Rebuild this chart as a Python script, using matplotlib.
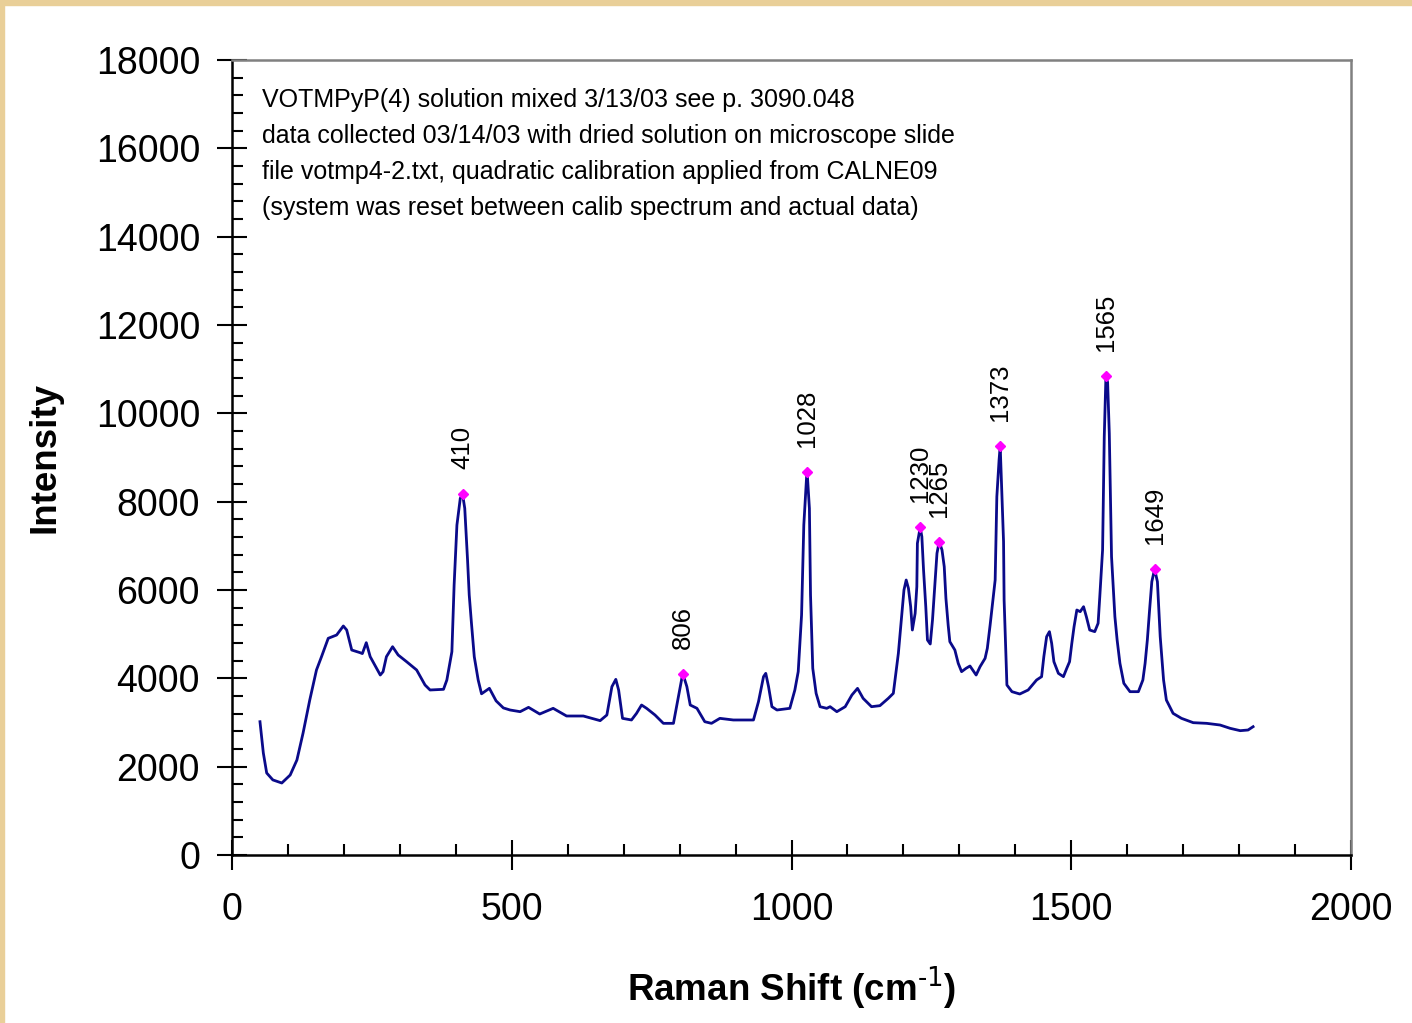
import matplotlib
matplotlib.use('Agg')
import matplotlib.pyplot as plt
from matplotlib.patches import Rectangle
from matplotlib.ticker import MultipleLocator

# spectrum: Raman shift (cm-1) and intensity
shift = [50, 56, 62, 73, 89, 104, 116, 127,
         139, 151, 160, 172, 187, 199, 205, 214,
         229, 233, 240, 247, 265, 270, 276, 287,
         297, 312, 330, 345, 354, 378, 384, 393,
         397, 402, 408, 412, 416, 421, 424, 428,
         433, 440, 446, 460, 472, 485, 497, 515,
         530, 550, 574, 598, 628, 658, 670, 679,
         686, 691, 698, 714, 723, 732, 741, 756,
         771, 789, 798, 804, 806, 813, 819, 831,
         845, 857, 872, 896, 932, 941, 950, 954,
         959, 965, 974, 997, 1006, 1012, 1018, 1022,
         1027, 1028, 1032, 1034, 1038, 1044, 1051, 1063,
         1069, 1081, 1096, 1108, 1118, 1128, 1143, 1158,
         1173, 1182, 1191, 1197, 1201, 1205, 1209, 1213,
         1216, 1221, 1224, 1225, 1230, 1233, 1236, 1240,
         1243, 1248, 1252, 1257, 1260, 1264, 1269, 1273,
         1276, 1280, 1283, 1292, 1298, 1304, 1312, 1319,
         1330, 1337, 1346, 1350, 1355, 1360, 1364, 1367,
         1371, 1373, 1376, 1379, 1380, 1385, 1394, 1408,
         1423, 1438, 1447, 1451, 1456, 1461, 1465, 1469,
         1477, 1486, 1492, 1497, 1501, 1505, 1510, 1516,
         1522, 1527, 1533, 1542, 1548, 1551, 1556, 1559,
         1562, 1565, 1568, 1572, 1578, 1582, 1587, 1594,
         1605, 1620, 1628, 1632, 1636, 1640, 1644, 1649,
         1654, 1659, 1665, 1670, 1676, 1682, 1697, 1718,
         1742, 1766, 1784, 1802, 1816, 1825]
intensity = [3018, 2310, 1857, 1700, 1630, 1811, 2150, 2760,
             3510, 4190, 4490, 4906, 4981, 5185, 5094, 4641,
             4581, 4560, 4807, 4490, 4075, 4150, 4490, 4716,
             4528, 4377, 4189, 3849, 3736, 3751, 3962, 4603,
             6113, 7471, 8075, 8173, 7850, 6679, 5887, 5246,
             4490, 3962, 3650, 3774, 3490, 3330, 3283, 3245,
             3343, 3192, 3321, 3147, 3147, 3042, 3170, 3811,
             3977, 3736, 3094, 3057, 3207, 3396, 3321, 3170,
             2981, 2981, 3585, 4000, 4098, 3811, 3396, 3321,
             3018, 2981, 3094, 3057, 3057, 3472, 4038, 4113,
             3811, 3358, 3283, 3321, 3736, 4151, 5434, 7471,
             8566, 8664, 7849, 5887, 4227, 3660, 3358, 3321,
             3358, 3245, 3358, 3623, 3773, 3547, 3358, 3381,
             3547, 3660, 4566, 5434, 6000, 6226, 6038, 5622,
             5094, 5472, 6075, 7057, 7419, 7207, 6453, 5622,
             4868, 4777, 5321, 6264, 6830, 7095, 6906, 6528,
             5811, 5207, 4830, 4641, 4340, 4151, 4227, 4279,
             4075, 4264, 4453, 4679, 5207, 5773, 6226, 8113,
             8943, 9260, 8189, 7094, 5773, 3849, 3698, 3645,
             3736, 3962, 4038, 4490, 4943, 5057, 4792, 4377,
             4113, 4038, 4227, 4377, 4792, 5169, 5547, 5509,
             5622, 5396, 5094, 5057, 5246, 5849, 6906, 9471,
             10845, 10700, 9547, 6755, 5396, 4868, 4340, 3887,
             3698, 3698, 3962, 4340, 4868, 5547, 6188, 6475,
             6188, 4943, 3962, 3509, 3358, 3207, 3094, 2996,
             2981, 2943, 2868, 2815, 2830, 2905]

# labelled peaks
peak_shift = [412, 806, 1028, 1230, 1264, 1373, 1562, 1649]
peak_height = [8173, 4098, 8664, 7419, 7095, 9260, 10845, 6475]
peak_label = ['410', '806', '1028', '1230', '1265', '1373', '1565', '1649']

notes = ['VOTMPyP(4) solution mixed 3/13/03 see p. 3090.048',
         'data collected 03/14/03 with dried solution on microscope slide',
         'file votmp4-2.txt, quadratic calibration applied from CALNE09',
         '(system was reset between calib spectrum and actual data)']

plt.rcParams['font.family'] = ['Liberation Sans', 'DejaVu Sans']
plt.rcParams['mathtext.default'] = 'regular'

W, H = 1412, 1023
fig = plt.figure(figsize=(W / 100, H / 100), dpi=100)
fig.patches.append(Rectangle((0, 1 - 5 / H), 1, 5 / H, transform=fig.transFigure,
                             color='#E9CF98', zorder=0))
fig.patches.append(Rectangle((0, 0), 4 / W, 1, transform=fig.transFigure,
                             color='#E9CF98', zorder=0))

ax = fig.add_axes([232 / W, 1 - 855 / H, (1351 - 232) / W, (855 - 60) / H])
ax.plot(shift, intensity, color='#0A0A8A', linewidth=2.0)
ax.plot(peak_shift, peak_height, linestyle='none', marker='D', markersize=5.5,
        color='#FF00FF', zorder=3)
for px, py, lab in zip(peak_shift, peak_height, peak_label):
    ax.annotate(lab, (px, py), xytext=(0, 18), textcoords='offset points',
                rotation=90, ha='center', va='bottom', fontsize=18.5)

ax.set_xlim(0, 2000)
ax.set_ylim(0, 18000)
ax.xaxis.set_major_locator(MultipleLocator(500))
ax.xaxis.set_minor_locator(MultipleLocator(100))
ax.yaxis.set_major_locator(MultipleLocator(2000))
ax.yaxis.set_minor_locator(MultipleLocator(400))
ax.tick_params(which='major', direction='inout', length=22, width=1.5,
               labelsize=27)
ax.tick_params(which='minor', direction='in', length=8, width=1.5)
ax.tick_params(axis='x', which='major', pad=16)
ax.tick_params(axis='y', which='major', pad=12)

for side in ['left', 'bottom']:
    ax.spines[side].set_linewidth(1.8)
    ax.spines[side].set_color('black')
for side in ['top', 'right']:
    ax.spines[side].set_linewidth(1.8)
    ax.spines[side].set_color('#808080')

ax.set_xlabel(r'Raman Shift (cm$^{\text{-1}}$)', fontsize=26.5,
              fontweight='bold', labelpad=26)
ax.set_ylabel('Intensity', fontsize=26.5, fontweight='bold', labelpad=24)

for i, line in enumerate(notes):
    ax.text(0.027, (855 - (100 + 36 * i)) / 795, line, transform=ax.transAxes,
            ha='left', va='center', fontsize=18)

fig.savefig('out.png', dpi=100)
